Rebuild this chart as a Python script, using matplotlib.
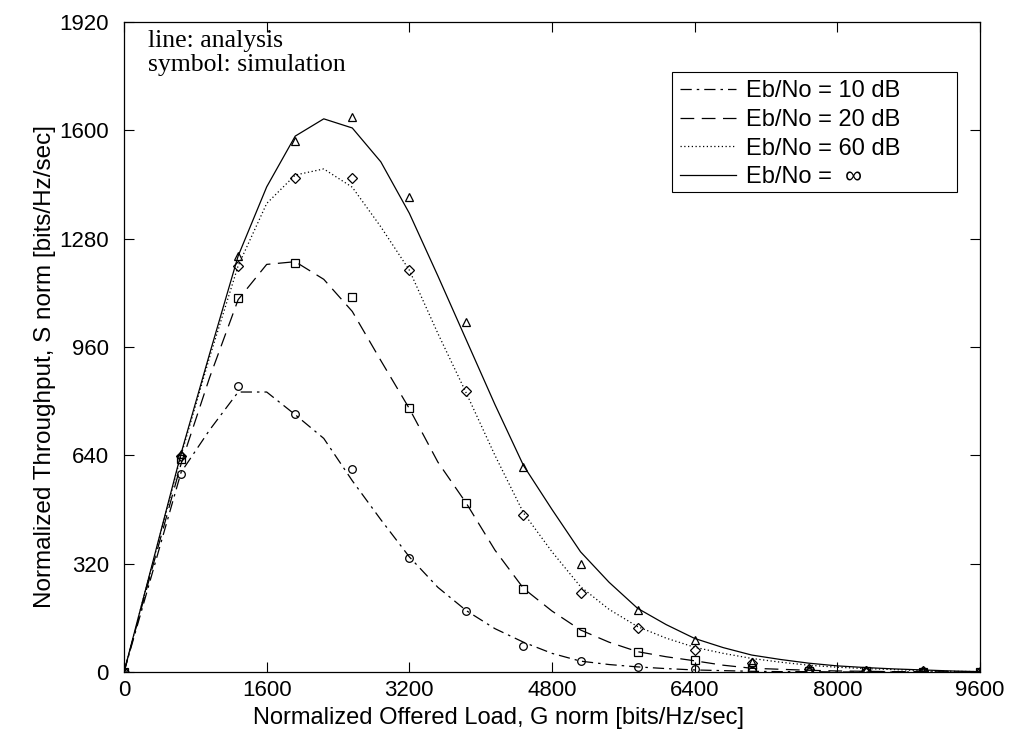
import matplotlib
matplotlib.use("Agg")
import matplotlib.pyplot as plt
from matplotlib.patches import Rectangle

# offered load grids
g_ana = [0, 320, 640, 960, 1280, 1600, 1920, 2240, 2560, 2880, 3200, 3520, 3840, 4160, 4480,
         4800, 5120, 5440, 5760, 6080, 6400, 6720, 7040, 7360, 7680, 8000, 8320, 8640, 8960,
         9280, 9600]
g_sim = [0, 640, 1280, 1920, 2560, 3200, 3840, 4480, 5120, 5760, 6400, 7040, 7680, 8320,
         8960, 9600]

# analysis curves
ana_10 = [0, 295, 590, 715, 827, 827, 760, 690, 565, 450, 340, 250, 181, 128, 88, 55, 32,
          22, 15, 10, 6, 4, 2, 1, 1, 0, 0, 0, 0, 0, 0]
ana_20 = [0, 310, 615, 870, 1100, 1204, 1212, 1160, 1065, 920, 778, 620, 498, 360, 247, 180,
          124, 88, 60, 45, 33, 20, 11, 8, 5, 3, 2, 1, 1, 0, 0]
ana_60 = [0, 320, 640, 930, 1200, 1384, 1468, 1486, 1432, 1315, 1187, 1000, 823, 640, 470,
          355, 252, 185, 134, 100, 73, 55, 40, 29, 20, 14, 10, 7, 4, 2, 1]
ana_inf = [0, 322, 646, 940, 1229, 1433, 1583, 1634, 1607, 1507, 1355, 1170, 980, 790, 610,
           480, 355, 265, 188, 140, 99, 72, 50, 37, 26, 18, 13, 9, 6, 3, 1]

# simulation points
sim_10 = [0, 584, 846, 762, 600, 337, 181, 78, 33, 16, 8, 3, 1, 0, 0, 0]
sim_20 = [0, 628, 1104, 1209, 1107, 781, 498, 244, 117, 60, 35, 12, 4, 2, 1, 0]
sim_60 = [0, 638, 1199, 1460, 1460, 1187, 830, 464, 234, 129, 65, 28, 10, 4, 2, 0]
sim_inf = [0, 645, 1229, 1568, 1638, 1402, 1033, 606, 319, 183, 93, 30, 10, 5, 2, 0]

labels = ["Eb/No = 10 dB", "Eb/No = 20 dB", "Eb/No = 60 dB", "Eb/No =  \u221e"]
xticks = [0, 1600, 3200, 4800, 6400, 8000, 9600]
yticks = [0, 320, 640, 960, 1280, 1600, 1920]

plt.rcParams['font.family'] = ['Liberation Sans', 'DejaVu Sans']

fig = plt.figure(figsize=(10.15, 7.44), dpi=100)
ax = fig.add_axes([0.1222, 0.0968, 0.8433, 0.8736])

lw = 0.9
l1, = ax.plot(g_ana, ana_10, color='black', lw=lw, dashes=(9, 4, 2, 4))
l2, = ax.plot(g_ana, ana_20, color='black', lw=lw, dashes=(11, 6))
l3, = ax.plot(g_ana, ana_60, color='black', lw=lw, dashes=(1, 2))
l4, = ax.plot(g_ana, ana_inf, color='black', lw=lw)

mk = dict(linestyle='none', color='black', markerfacecolor='none', markeredgewidth=0.9)
ax.plot(g_sim, sim_10, marker='o', markersize=5.5, **mk)
ax.plot(g_sim, sim_20, marker='s', markersize=5.5, **mk)
ax.plot(g_sim, sim_60, marker='D', markersize=5, **mk)
ax.plot(g_sim, sim_inf, marker='^', markersize=5.5, **mk)

ax.set_xlim(0, 9600)
ax.set_ylim(0, 1920)
ax.set_xticks(xticks)
ax.set_yticks(yticks)
ax.tick_params(direction='in', length=7, width=0.8, top=True, right=True, labelsize=16)
ax.tick_params(axis='x', pad=6)
ax.tick_params(axis='y', pad=11)
for s in ax.spines.values():
    s.set_linewidth(0.9)

# axis titles sit centred on the figure, as in the original
fig.text(0.4916, 0.035, "Normalized Offered Load, G norm [bits/Hz/sec]", fontsize=17,
         ha='center', va='center')
fig.text(0.044, 0.508, "Normalized Throughput, S norm [bits/Hz/sec]", fontsize=17.5,
         ha='center', va='center', rotation=90)

ax.text(0.028, 0.988, "line: analysis\nsymbol: simulation", transform=ax.transAxes,
        ha='left', va='top', fontsize=18.5, family=['Liberation Serif', 'DejaVu Serif'],
        linespacing=1.1)

leg = ax.legend([l1, l2, l3, l4], labels, loc='upper left', bbox_to_anchor=(0.640, 0.923),
                borderaxespad=0, fontsize=17, handlelength=2.35, handletextpad=0.45,
                labelspacing=0.28, frameon=False, borderpad=0.35)
ax.add_patch(Rectangle((0.640, 0.738), 0.333, 0.185, transform=ax.transAxes, fill=False,
                       edgecolor='black', linewidth=0.8, zorder=5))

fig.savefig("out.png", dpi=100)
